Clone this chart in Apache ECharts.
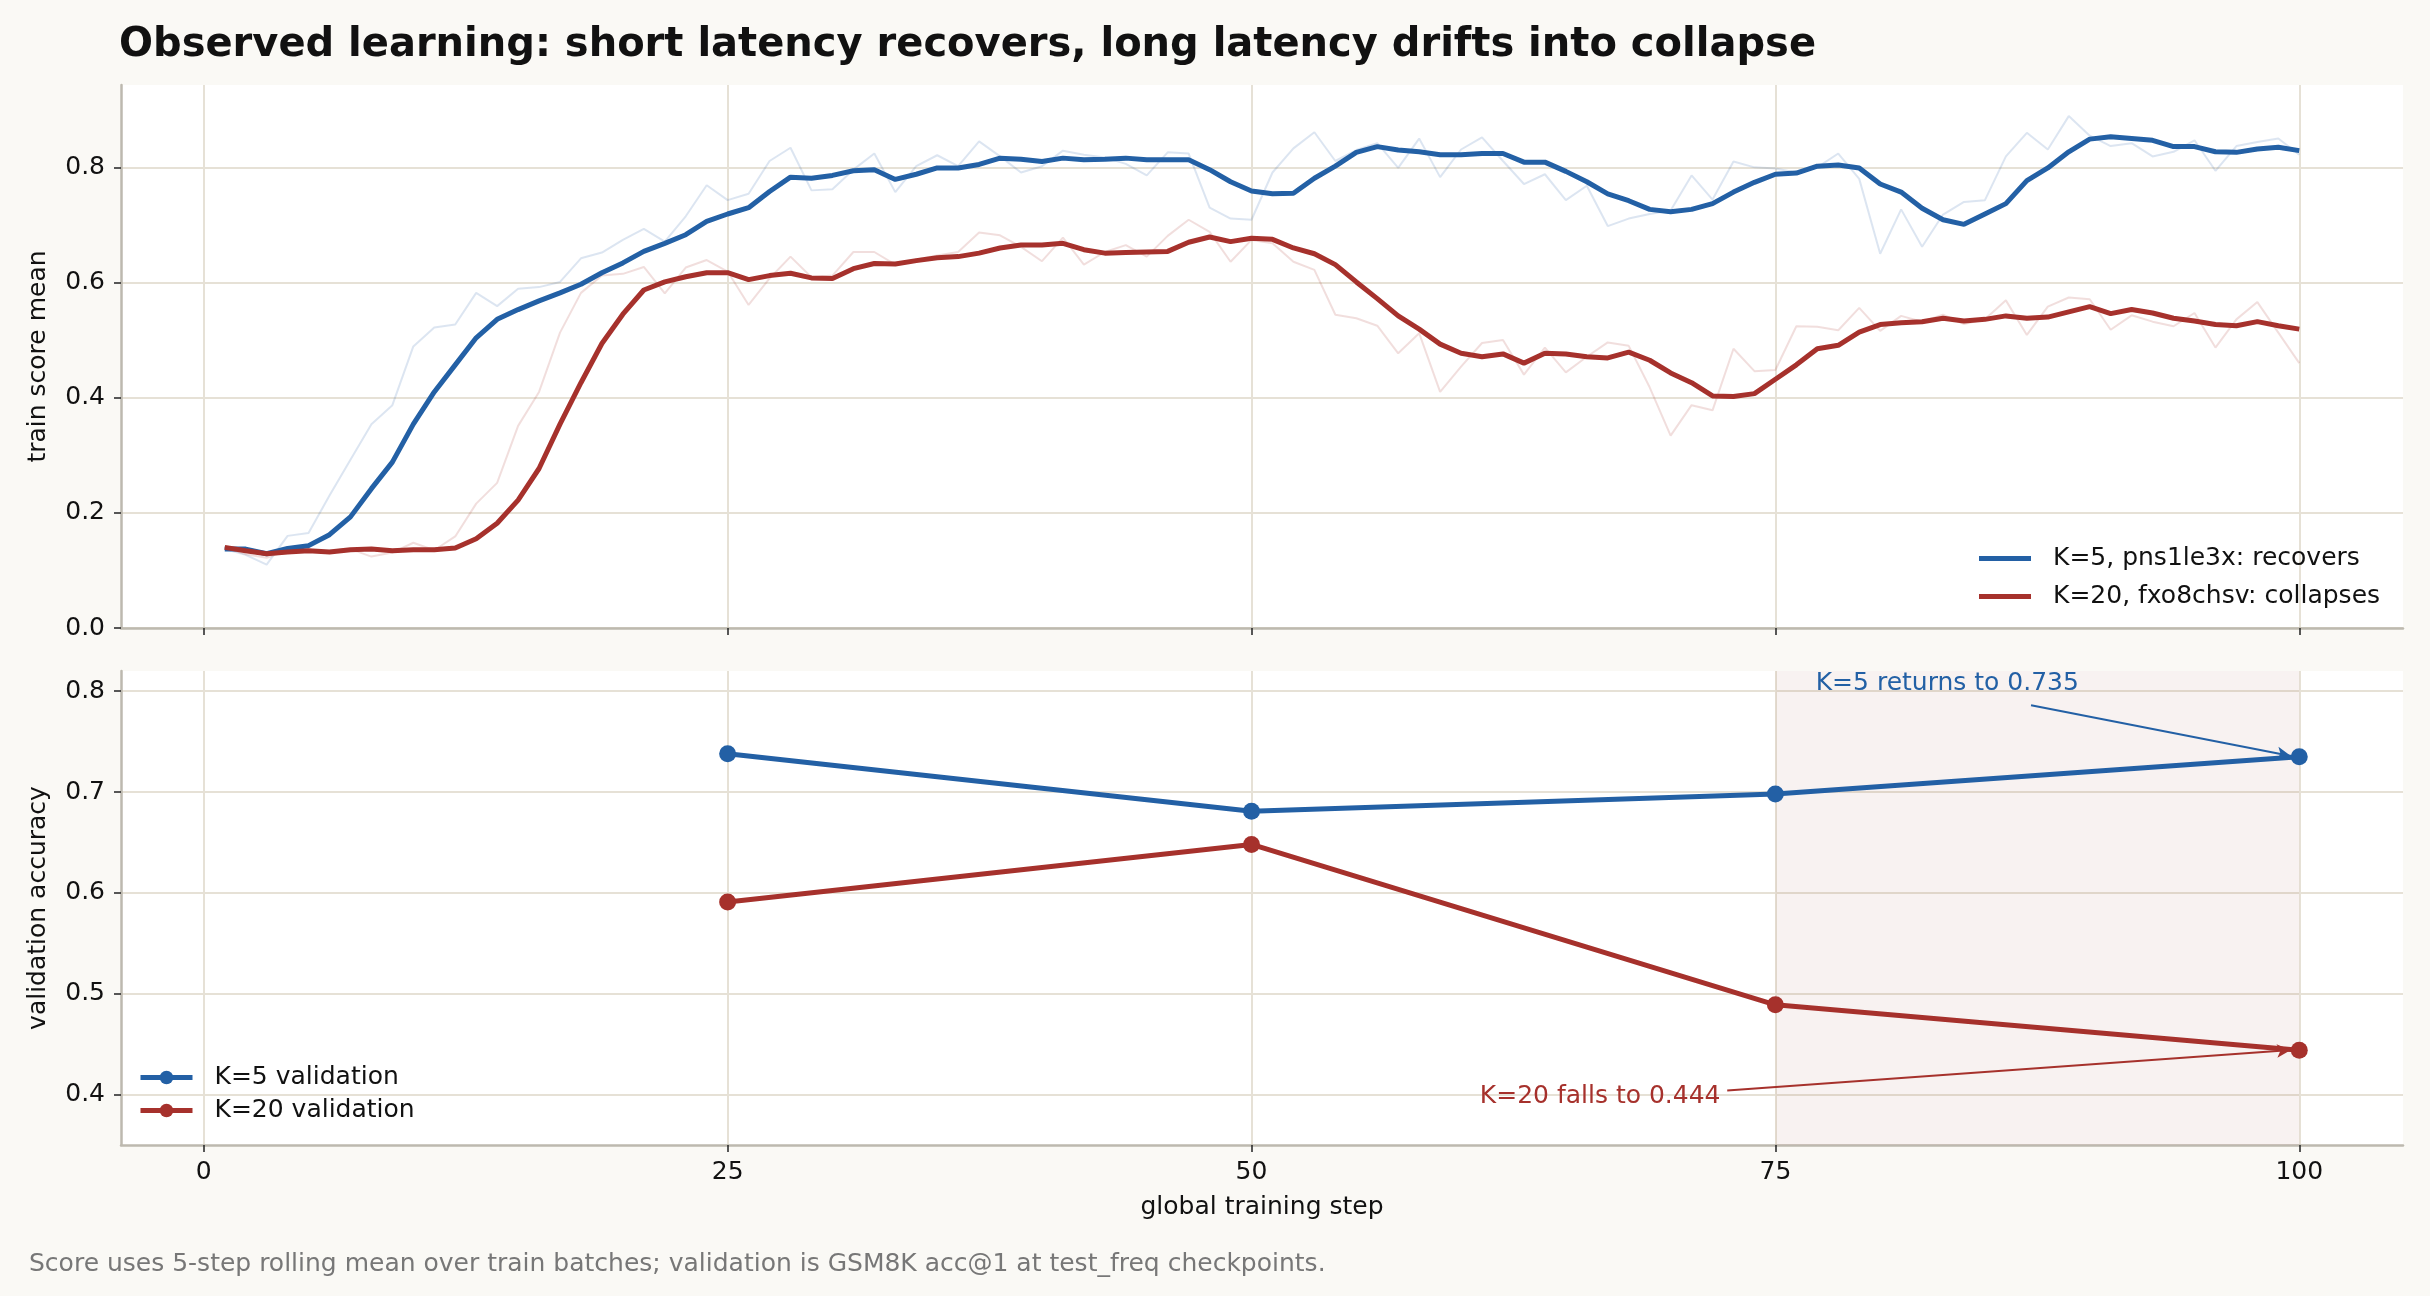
<!DOCTYPE html>
<html>
<head>
<meta charset="utf-8">
<script src="https://cdn.jsdelivr.net/npm/echarts@6/dist/echarts.min.js"></script>
<style>
html, body { margin: 0; padding: 0; background: #faf9f5; }
#chart { width: 2430px; height: 1296px; }
</style>
</head>
<body>
<div id="chart"></div>
<script>
// training steps (x)
const steps = [1, 2, 3, 4, 5, 6, 7, 8, 9, 10, 11, 12, 13, 14, 15, 16, 17, 18, 19, 20,
    21, 22, 23, 24, 25, 26, 27, 28, 29, 30, 31, 32, 33, 34, 35, 36, 37, 38, 39, 40,
    41, 42, 43, 44, 45, 46, 47, 48, 49, 50, 51, 52, 53, 54, 55, 56, 57, 58, 59, 60,
    61, 62, 63, 64, 65, 66, 67, 68, 69, 70, 71, 72, 73, 74, 75, 76, 77, 78, 79, 80,
    81, 82, 83, 84, 85, 86, 87, 88, 89, 90, 91, 92, 93, 94, 95, 96, 97, 98, 99, 100];

// raw train batch scores
const rawK5 = [0.137, 0.127, 0.110, 0.160, 0.165, 0.230, 0.292, 0.354, 0.387, 0.489,
    0.522, 0.527, 0.582, 0.559, 0.589, 0.592, 0.601, 0.642, 0.652, 0.674,
    0.693, 0.671, 0.715, 0.769, 0.743, 0.754, 0.811, 0.834, 0.760, 0.762,
    0.796, 0.824, 0.757, 0.802, 0.821, 0.802, 0.845, 0.819, 0.791, 0.802,
    0.829, 0.822, 0.817, 0.806, 0.786, 0.826, 0.824, 0.730, 0.711, 0.709,
    0.791, 0.833, 0.861, 0.811, 0.830, 0.842, 0.799, 0.850, 0.783, 0.831,
    0.852, 0.811, 0.771, 0.788, 0.743, 0.768, 0.698, 0.711, 0.719, 0.725,
    0.786, 0.744, 0.810, 0.800, 0.798, 0.791, 0.800, 0.824, 0.780, 0.650,
    0.727, 0.662, 0.718, 0.740, 0.743, 0.819, 0.860, 0.831, 0.889, 0.855,
    0.837, 0.842, 0.819, 0.827, 0.847, 0.794, 0.837, 0.844, 0.850, 0.822];
const rawK20 = [0.140, 0.128, 0.122, 0.135, 0.133, 0.134, 0.137, 0.124, 0.131, 0.148,
    0.135, 0.159, 0.216, 0.252, 0.351, 0.410, 0.513, 0.582, 0.612, 0.615,
    0.627, 0.581, 0.626, 0.639, 0.619, 0.561, 0.607, 0.645, 0.609, 0.612,
    0.653, 0.653, 0.631, 0.640, 0.647, 0.653, 0.687, 0.682, 0.662, 0.637,
    0.678, 0.631, 0.653, 0.665, 0.645, 0.681, 0.709, 0.688, 0.636, 0.674,
    0.668, 0.636, 0.622, 0.544, 0.538, 0.525, 0.477, 0.512, 0.410, 0.454,
    0.495, 0.500, 0.440, 0.487, 0.444, 0.471, 0.496, 0.490, 0.418, 0.334,
    0.387, 0.378, 0.485, 0.446, 0.448, 0.524, 0.523, 0.517, 0.556, 0.516,
    0.542, 0.532, 0.544, 0.528, 0.536, 0.569, 0.509, 0.558, 0.574, 0.571,
    0.518, 0.543, 0.532, 0.524, 0.547, 0.487, 0.536, 0.566, 0.513, 0.460];

// 5-step rolling means
const meanK5 = [0.137, 0.137, 0.129, 0.138, 0.143, 0.162, 0.193, 0.242, 0.288, 0.354,
    0.410, 0.457, 0.504, 0.536, 0.553, 0.568, 0.582, 0.597, 0.617, 0.634,
    0.654, 0.668, 0.683, 0.706, 0.719, 0.730, 0.758, 0.783, 0.781, 0.786,
    0.794, 0.796, 0.779, 0.788, 0.799, 0.799, 0.805, 0.816, 0.814, 0.810,
    0.816, 0.813, 0.814, 0.816, 0.813, 0.813, 0.813, 0.796, 0.775, 0.759,
    0.754, 0.755, 0.781, 0.802, 0.826, 0.836, 0.830, 0.827, 0.822, 0.822,
    0.824, 0.824, 0.809, 0.809, 0.793, 0.775, 0.754, 0.742, 0.727, 0.723,
    0.727, 0.737, 0.757, 0.774, 0.788, 0.790, 0.802, 0.804, 0.799, 0.771,
    0.757, 0.729, 0.709, 0.701, 0.719, 0.737, 0.777, 0.799, 0.827, 0.849,
    0.853, 0.850, 0.847, 0.836, 0.836, 0.827, 0.826, 0.832, 0.835, 0.829];
const meanK20 = [0.140, 0.134, 0.129, 0.132, 0.134, 0.132, 0.136, 0.137, 0.134, 0.136,
    0.136, 0.139, 0.155, 0.182, 0.222, 0.277, 0.354, 0.426, 0.494, 0.545,
    0.587, 0.601, 0.610, 0.617, 0.617, 0.605, 0.612, 0.616, 0.608, 0.607,
    0.624, 0.633, 0.632, 0.638, 0.643, 0.645, 0.651, 0.660, 0.665, 0.665,
    0.668, 0.657, 0.651, 0.652, 0.653, 0.654, 0.670, 0.679, 0.671, 0.677,
    0.675, 0.660, 0.650, 0.631, 0.601, 0.572, 0.542, 0.519, 0.493, 0.477,
    0.471, 0.476, 0.460, 0.477, 0.476, 0.471, 0.469, 0.479, 0.465, 0.443,
    0.426, 0.403, 0.402, 0.407, 0.432, 0.457, 0.485, 0.491, 0.514, 0.527,
    0.530, 0.532, 0.538, 0.533, 0.536, 0.542, 0.538, 0.540, 0.549, 0.558,
    0.546, 0.553, 0.547, 0.538, 0.533, 0.527, 0.525, 0.532, 0.525, 0.519];

// validation checkpoints
const valSteps = [25, 50, 75, 100];
const valK5 = [0.738, 0.681, 0.698, 0.735];
const valK20 = [0.591, 0.648, 0.489, 0.444];

// tick labels
const xTicks = [0, 25, 50, 75, 100];
const topYTicks = [0, 0.2, 0.4, 0.6, 0.8];
const botYTicks = [0.4, 0.5, 0.6, 0.7, 0.8];

const BLUE = '#2360a5';
const RED = '#a6312c';
const FONT = 'DejaVu Sans';
const FS = 25;

function pairs(xs, ys) {
    return ys.map((v, i) => [xs[i], v]);
}

function xAxisOpt(gridIndex, showLabels) {
    return {
        type: 'value', gridIndex: gridIndex, min: -3.95, max: 104.95,
        axisLine: { show: true, onZero: false, lineStyle: { color: '#bdb9af', width: 2.5 } },
        axisTick: { show: true, length: 7, customValues: xTicks, lineStyle: { color: '#222', width: 1.5 } },
        axisLabel: { show: showLabels, customValues: xTicks, color: '#111', fontSize: FS, margin: 15, fontFamily: FONT },
        splitLine: { show: true, lineStyle: { color: '#e6e1d6', width: 2 } }
    };
}

function yAxisOpt(gridIndex, min, max, ticks, name) {
    return {
        type: 'value', gridIndex: gridIndex, min: min, max: max,
        name: name, nameLocation: 'middle', nameGap: 70,
        nameTextStyle: { fontSize: FS, color: '#111', fontFamily: FONT },
        axisLine: { show: true, onZero: false, lineStyle: { color: '#bdb9af', width: 2.5 } },
        axisTick: { show: true, length: 7, customValues: ticks, lineStyle: { color: '#222', width: 1.5 } },
        axisLabel: { customValues: ticks, color: '#111', fontSize: FS, margin: 16, fontFamily: FONT,
            formatter: v => v.toFixed(1) },
        splitLine: { show: true, lineStyle: { color: '#e6e1d6', width: 2 } }
    };
}

const chart = echarts.init(document.getElementById('chart'));

const option = {
    animation: false,
    backgroundColor: '#faf9f5',
    textStyle: { fontFamily: FONT },
    title: [
        {
            text: 'Observed learning: short latency recovers, long latency drifts into collapse',
            left: 119, top: 26, padding: 0,
            textStyle: { fontSize: 40, fontWeight: 'bold', color: '#111', fontFamily: FONT }
        },
        {
            text: 'Score uses 5-step rolling mean over train batches; validation is GSM8K acc@1 at test_freq checkpoints.',
            left: 29, top: 1252, padding: 0,
            textStyle: { fontSize: FS, fontWeight: 'normal', color: '#777', fontFamily: FONT }
        }
    ],
    grid: [
        { left: 121, right: 27, top: 85, height: 543, show: true, backgroundColor: '#fff', borderWidth: 0 },
        { left: 121, right: 27, top: 671, height: 474, show: true, backgroundColor: '#fff', borderWidth: 0 }
    ],
    xAxis: [
        xAxisOpt(0, false),
        Object.assign(xAxisOpt(1, true), {
            name: 'global training step', nameLocation: 'middle', nameGap: 50,
            nameTextStyle: { fontSize: FS, color: '#111', fontFamily: FONT }
        })
    ],
    yAxis: [
        yAxisOpt(0, 0, 0.943, topYTicks, 'train score mean'),
        yAxisOpt(1, 0.35, 0.82, botYTicks, 'validation accuracy')
    ],
    legend: [
        {
            data: ['K=5, pns1le3x: recovers', 'K=20, fxo8chsv: collapses'],
            orient: 'vertical', left: 1974, top: 541, icon: 'rect', itemWidth: 52, itemHeight: 5, itemGap: 13,
            textStyle: { fontSize: FS, color: '#111', padding: [0, 0, 0, 17] }
        },
        {
            data: ['K=5 validation', 'K=20 validation'],
            orient: 'vertical', left: 133, top: 1060, itemWidth: 52, itemHeight: 17, itemGap: 8,
            lineStyle: { width: 5 },
            textStyle: { fontSize: FS, color: '#111', padding: [0, 0, 0, 17] }
        }
    ],
    series: [
        {
            name: 'K=5 raw', type: 'line', xAxisIndex: 0, yAxisIndex: 0, data: pairs(steps, rawK5),
            symbol: 'none', lineStyle: { color: BLUE, width: 2, opacity: 0.16 }, silent: true
        },
        {
            name: 'K=20 raw', type: 'line', xAxisIndex: 0, yAxisIndex: 0, data: pairs(steps, rawK20),
            symbol: 'none', lineStyle: { color: RED, width: 2, opacity: 0.16 }, silent: true
        },
        {
            name: 'K=5, pns1le3x: recovers', type: 'line', xAxisIndex: 0, yAxisIndex: 0,
            data: pairs(steps, meanK5), symbol: 'none',
            itemStyle: { color: BLUE }, lineStyle: { color: BLUE, width: 5 }
        },
        {
            name: 'K=20, fxo8chsv: collapses', type: 'line', xAxisIndex: 0, yAxisIndex: 0,
            data: pairs(steps, meanK20), symbol: 'none',
            itemStyle: { color: RED }, lineStyle: { color: RED, width: 5 }
        },
        {
            name: 'K=5 validation', type: 'line', xAxisIndex: 1, yAxisIndex: 1,
            data: pairs(valSteps, valK5), symbol: 'circle', symbolSize: 17,
            itemStyle: { color: BLUE }, lineStyle: { color: BLUE, width: 5 },
            markLine: {
                silent: true, symbol: ['none', 'arrow'], symbolSize: [10, 14],
                label: { show: false },
                lineStyle: { color: BLUE, width: 2, type: 'solid' },
                data: [[{ coord: [87.2, 0.786] }, { coord: [99.6, 0.7358] }]]
            },
            markPoint: {
                silent: true, symbol: 'circle', symbolSize: 1, itemStyle: { color: 'rgba(0,0,0,0)' },
                label: { show: true, position: 'right', distance: 0, color: BLUE, fontSize: FS,
                    formatter: 'K=5 returns to 0.735' },
                data: [{ coord: [76.9, 0.808] }]
            }
        },
        {
            name: 'K=20 validation', type: 'line', xAxisIndex: 1, yAxisIndex: 1,
            data: pairs(valSteps, valK20), symbol: 'circle', symbolSize: 17,
            itemStyle: { color: RED }, lineStyle: { color: RED, width: 5 },
            markArea: {
                silent: true,
                itemStyle: { color: 'rgba(160,70,50,0.07)' },
                data: [[{ xAxis: 75 }, { xAxis: 100 }]]
            },
            markLine: {
                silent: true, symbol: ['none', 'arrow'], symbolSize: [10, 14],
                label: { show: false },
                lineStyle: { color: RED, width: 2, type: 'solid' },
                data: [[{ coord: [72.7, 0.404] }, { coord: [99.6, 0.4442] }]]
            },
            markPoint: {
                silent: true, symbol: 'circle', symbolSize: 1, itemStyle: { color: 'rgba(0,0,0,0)' },
                label: { show: true, position: 'left', distance: 2, color: RED, fontSize: FS,
                    formatter: 'K=20 falls to 0.444' },
                data: [{ coord: [72.5, 0.398] }]
            }
        }
    ]
};

chart.setOption(option);
</script>
</body>
</html>
